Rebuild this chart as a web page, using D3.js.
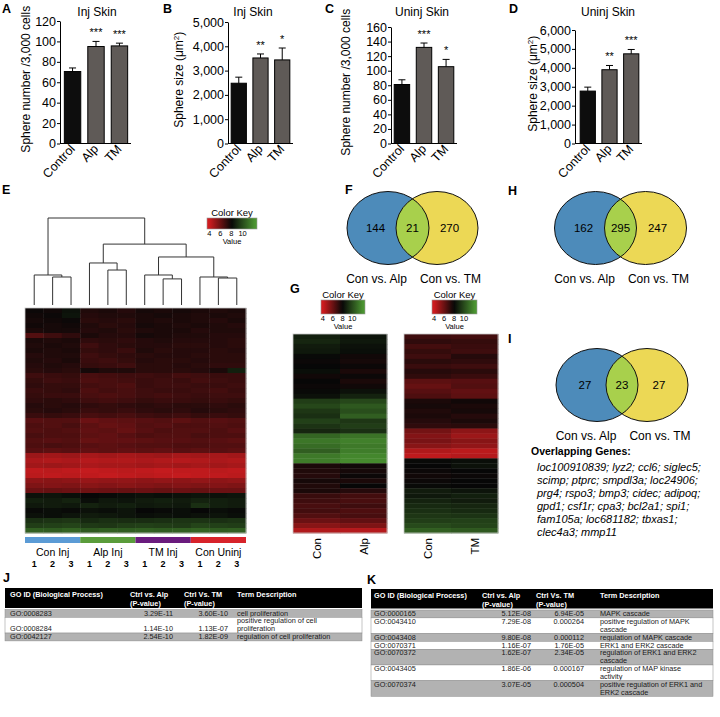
<!DOCTYPE html>
<html>
<head>
<meta charset="utf-8">
<script src="https://cdn.jsdelivr.net/npm/d3@7"></script>
<style>
body { margin: 0; background: #fff; }
svg text { font-family: Arial, "Liberation Sans", sans-serif; }
</style>
</head>
<body>
<svg id="fig" width="720" height="717"></svg>
<script>
// ---- bar panels A-D ----
const barCats = ["Control", "Alp", "TM"];
const injNumber = [70.5, 95, 95.6];
const injNumberErr = [3.5, 5, 2.7];
const injNumberSig = ["", "***", "***"];
const injSize = [2480, 3520, 3440];
const injSizeErr = [250, 165, 490];
const injSizeSig = ["", "**", "*"];
const uninjNumber = [81, 132, 105.5];
const uninjNumberErr = [6.5, 6, 10];
const uninjNumberSig = ["", "***", "*"];
const uninjSize = [2770, 3900, 4740];
const uninjSizeErr = [210, 225, 230];
const uninjSizeSig = ["", "**", "***"];
const ticksInjNumber = [0, 20, 40, 60, 80, 100, 120];
const ticksInjSize = [0, 1000, 2000, 3000, 4000, 5000];
const ticksUninjNumber = [0, 20, 40, 60, 80, 100, 120, 140, 160];
const ticksUninjSize = [0, 1000, 2000, 3000, 4000, 5000, 6000];

// ---- heatmap E (12 samples) ----
const groupsE = ["Con Inj", "Alp Inj", "TM Inj", "Con Uninj"];
const repsE = ["1", "2", "3"];
const rowsE = [
  [7.9,7.8,8.3, 7.5,7.6,7.4, 7.7,7.6,7.7, 7.6,7.5,7.6],
  [7.8,7.9,8.4, 7.4,7.5,7.5, 7.6,7.7,7.6, 7.5,7.6,7.5],
  [7.7,7.8,7.9, 7.3,7.4,7.3, 7.6,7.5,7.6, 7.5,7.4,7.6],
  [7.8,7.7,7.8, 7.5,7.3,7.4, 7.7,7.6,7.5, 7.6,7.5,7.4],
  [7.6,7.7,7.7, 7.4,7.5,7.3, 7.5,7.6,7.6, 7.4,7.5,7.5],
  [6.5,6.9,7.2, 7.6,7.4,7.4, 7.7,7.6,7.5, 7.5,7.4,7.4],
  [7.6,7.5,7.6, 7.2,7.3,7.2, 7.4,7.5,7.4, 7.4,7.4,7.3],
  [7.5,7.6,7.5, 6.9,7.2,7.3, 7.4,7.4,7.3, 7.3,7.4,7.3],
  [7.6,7.5,7.6, 7.1,7.2,7.0, 7.5,7.3,7.4, 7.4,7.3,7.4],
  [7.4,7.5,7.5, 6.9,7.1,7.2, 7.3,7.4,7.4, 7.3,7.3,7.3],
  [7.5,7.4,7.6, 7.0,6.9,7.1, 7.4,7.3,7.3, 7.4,7.3,7.3],
  [7.4,7.5,7.4, 7.1,7.0,6.9, 7.3,7.3,7.4, 7.3,7.2,7.2],
  [7.3,7.4,7.3, 7.7,7.5,7.5, 7.3,7.3,7.3, 7.4,7.6,8.7],
  [6.9,7.0,7.1, 6.7,6.8,6.9, 6.9,7.0,6.8, 6.9,7.0,7.0],
  [7.1,6.9,7.0, 6.6,6.7,6.8, 7.0,6.9,7.0, 6.8,6.9,7.0],
  [7.2,7.1,7.1, 6.8,6.7,6.6, 7.0,6.9,6.9, 7.0,7.0,6.9],
  [7.0,7.1,7.2, 6.6,6.8,6.7, 6.9,7.0,7.0, 6.9,6.8,7.0],
  [7.1,7.0,7.0, 6.7,6.6,6.7, 6.9,6.8,6.9, 7.0,6.9,6.9],
  [7.2,7.3,7.2, 6.9,6.8,6.9, 7.1,7.0,7.0, 7.1,7.0,7.1],
  [7.4,7.3,7.4, 7.2,7.1,7.2, 7.3,7.2,7.3, 7.3,7.2,7.3],
  [7.3,7.4,7.3, 7.0,7.1,7.0, 7.2,7.3,7.2, 7.4,7.3,7.2],
  [7.0,7.1,7.0, 6.7,6.8,6.7, 6.9,7.0,6.9, 7.1,7.0,7.1],
  [6.4,6.5,6.5, 6.0,6.2,6.3, 6.4,6.5,6.3, 6.5,6.4,6.5],
  [6.6,6.5,6.7, 6.3,6.1,6.2, 6.5,6.4,6.6, 6.6,6.5,6.6],
  [6.5,6.6,6.5, 6.2,6.3,6.1, 6.4,6.6,6.5, 6.5,6.6,6.4],
  [6.7,6.6,6.6, 6.3,6.2,6.4, 6.6,6.5,6.5, 6.7,6.6,6.6],
  [6.5,6.4,6.5, 6.1,6.2,6.2, 6.3,6.4,6.4, 6.5,6.4,6.3],
  [6.6,6.7,6.6, 6.4,6.3,6.4, 6.5,6.5,6.6, 6.6,6.5,6.5],
  [6.4,6.3,6.4, 6.2,6.3,6.2, 6.3,6.2,6.4, 6.3,6.4,6.3],
  [5.0,4.9,5.0, 4.8,4.9,4.8, 4.9,5.0,4.8, 4.9,4.8,4.9],
  [4.7,4.6,4.7, 4.5,4.6,4.6, 4.7,4.6,4.5, 4.6,4.7,4.6],
  [4.9,5.0,4.9, 4.7,4.8,4.8, 4.9,4.8,4.9, 4.8,4.9,4.8],
  [4.3,4.4,4.3, 4.2,4.3,4.4, 4.3,4.2,4.3, 4.3,4.4,4.3],
  [4.4,4.3,4.4, 4.3,4.2,4.3, 4.4,4.3,4.2, 4.3,4.3,4.4],
  [5.3,5.4,5.3, 5.1,5.2,5.2, 5.3,5.2,5.3, 5.2,5.3,5.2],
  [5.6,5.5,5.6, 5.4,5.5,5.4, 5.5,5.6,5.5, 5.6,5.5,5.6],
  [6.0,6.1,6.0, 5.9,6.0,6.1, 6.0,6.1,6.0, 6.1,6.0,6.0],
  [8.3,8.4,8.2, 8.0,8.1,8.2, 8.3,8.2,8.3, 8.4,8.3,8.4],
  [8.7,8.6,8.8, 8.2,8.5,8.4, 8.6,8.7,8.6, 8.8,8.7,8.6],
  [8.5,8.6,8.5, 8.8,8.6,8.7, 8.5,8.6,8.5, 9.2,8.7,8.6],
  [8.1,8.2,8.1, 8.3,8.2,8.4, 8.0,8.1,8.2, 8.0,8.2,8.1],
  [8.3,8.2,8.4, 8.6,8.5,8.4, 8.2,8.3,8.2, 8.3,8.4,8.2],
  [9.2,9.3,9.4, 9.0,9.2,9.1, 9.1,9.2,9.3, 9.3,9.2,9.3],
  [9.6,9.7,9.8, 9.5,9.4,9.6, 9.7,9.6,9.5, 9.8,9.7,9.6],
  [10.6,10.5,10.7, 10.4,10.6,10.5, 10.6,10.5,10.6, 10.7,10.5,10.6]
];
// dendrogram: h = relative merge height, leaf = column index
const dendroE = {h: 1.0, children: [
  {h: 0.345, children: [{leaf: 0}, {h: 0.322, children: [{leaf: 1}, {leaf: 2}]}]},
  {h: 0.70, children: [
    {h: 0.483, children: [{leaf: 3}, {h: 0.402, children: [{leaf: 4}, {leaf: 5}]}]},
    {h: 0.552, children: [
      {h: 0.345, children: [{leaf: 6}, {h: 0.30, children: [{leaf: 7}, {leaf: 8}]}]},
      {h: 0.322, children: [{leaf: 9}, {h: 0.31, children: [{leaf: 10}, {leaf: 11}]}]}
    ]}
  ]}
]};

// ---- heatmaps G ----
const colsGAlp = ["Con", "Alp"];
const rowsGAlp = [
  [8.7,8.4],[8.9,8.5],[8.6,8.3],[8.5,8.2],
  [8.1,7.8],[7.9,7.7],[8.0,7.9],[8.2,7.6],[7.8,7.9],[8.0,7.6],[7.9,7.8],[8.1,8.3],[8.3,8.8],
  [9.6,9.9],[9.9,10.4],[9.4,10.1],[9.2,10.6],[9.7,9.4],[9.3,9.6],[8.9,9.2],
  [10.8,11.2],[11.3,11.6],[11.0,11.4],[10.6,11.5],[11.4,11.8],[11.5,11.9],
  [7.6,7.8],[7.5,7.7],[7.4,7.9],[7.7,7.6],[7.5,8.0],[7.6,7.4],
  [7.0,6.8],[6.9,6.7],[6.7,6.9],[6.8,6.6],[6.5,6.7],
  [6.0,6.2],[5.4,5.6],[4.6,4.5]
];
const colsGTM = ["Con", "TM"];
const rowsGTM = [
  [6.9,6.8],[7.2,7.1],[6.8,7.0],[7.1,6.9],[6.9,7.4],[7.3,7.2],[7.0,6.9],[7.4,7.3],[7.2,7.0],
  [6.3,6.4],[6.1,6.5],[6.4,6.2],[6.6,6.3],
  [7.6,7.8],[7.7,7.6],[7.5,7.7],[7.6,7.4],[7.4,7.6],[7.2,7.3],
  [5.8,5.3],[5.5,5.0],[5.7,5.4],[5.4,5.2],
  [4.6,4.4],[4.3,4.5],
  [8.1,8.2],[8.0,8.3],[7.9,8.0],[7.8,7.9],[7.9,8.0],[8.1,8.0],
  [8.6,8.4],[8.5,8.7],[8.8,8.6],[9.0,8.9],[9.2,9.0],[9.4,9.3],[9.6,9.7],[10.0,9.8],[10.6,10.4]
];
const keyTicks = [4, 6, 8, 10];

// ---- Venn diagrams ----
const vennSets = ["Con vs. Alp", "Con vs. TM"];
const vennF = [144, 21, 270];
const vennH = [162, 295, 247];
const vennI = [27, 23, 27];
const overlapGenes = [
  "loc100910839; lyz2; ccl6; siglec5;",
  "scimp; ptprc; smpdl3a; loc24906;",
  "prg4; rspo3; bmp3; cidec; adipoq;",
  "gpd1; csf1r; cpa3; bcl2a1; spi1;",
  "fam105a; loc681182; tbxas1;",
  "clec4a3; mmp11"
];

// ---- GO tables ----
const goJ = ["GO:0008283", "GO:0008284", "GO:0042127"];
const alpJ = ["3.29E-11", "1.14E-10", "2.54E-10"];
const tmJ = ["3.60E-10", "1.13E-07", "1.82E-09"];
const termJ = [["cell proliferation"], ["positive regulation of cell", "proliferation"], ["regulation of cell proliferation"]];
const goK = ["GO:0000165", "GO:0043410", "GO:0043408", "GO:0070371", "GO:0070372", "GO:0043405", "GO:0070374"];
const alpK = ["5.12E-08", "7.29E-08", "9.80E-08", "1.16E-07", "1.62E-07", "1.86E-06", "3.07E-05"];
const tmK = ["6.94E-05", "0.000264", "0.000112", "1.76E-05", "2.34E-05", "0.000167", "0.000504"];
const termK = [["MAPK cascade"], ["positive regulation of MAPK", "cascade"], ["regulation of MAPK cascade"],
  ["ERK1 and ERK2 cascade"], ["regulation of ERK1 and ERK2", "cascade"], ["regulation of MAP kinase", "activity"],
  ["positive regulation of ERK1 and", "ERK2 cascade"]];

const svg = d3.select('#fig');
const heatColor = d3.scaleLinear().domain([3.8, 8, 12.4])
  .range(["#d81d20", "#070707", "#4e9b33"]).clamp(true);

function letter(t, x, y) {
  svg.append('text').attr('x', x).attr('y', y)
    .attr('font-size', 12.5).attr('font-weight', 'bold').text(t);
}

function barPanel(cfg, vals, errs, sig) {
  const g = svg.append('g');
  const y = d3.scaleLinear().domain([0, cfg.ymax]).range([143.5, cfg.ytop]);
  const x = d3.scaleBand().domain(barCats).range(cfg.band).paddingInner(0.3).paddingOuter(0.1);

  const ax = g.append('g').attr('transform', `translate(${cfg.x0},0)`)
    .call(d3.axisLeft(y).tickValues(cfg.ticks).tickSize(3).tickSizeOuter(0).tickPadding(1)
      .tickFormat(cfg.fmt));
  ax.attr('font-size', 12.5).attr('font-family', 'Arial, "Liberation Sans", sans-serif');
  ax.selectAll('path,line').attr('stroke', '#000');

  g.append('line').attr('x1', cfg.x0).attr('x2', cfg.band[1] + 1)
    .attr('y1', y(0)).attr('y2', y(0)).attr('stroke', '#000');

  g.selectAll('.bar').data(vals).join('rect')
    .attr('x', (d, i) => x(barCats[i])).attr('width', x.bandwidth())
    .attr('y', d => y(d)).attr('height', d => y(0) - y(d))
    .attr('fill', (d, i) => i === 0 ? '#0d0d0d' : '#5f5a57')
    .attr('stroke', '#000').attr('stroke-width', 1);

  const cx = i => x(barCats[i]) + x.bandwidth() / 2;
  vals.forEach((v, i) => {
    g.append('line').attr('x1', cx(i)).attr('x2', cx(i))
      .attr('y1', y(v)).attr('y2', y(v + errs[i])).attr('stroke', '#000');
    g.append('line').attr('x1', cx(i) - 3.5).attr('x2', cx(i) + 3.5)
      .attr('y1', y(v + errs[i])).attr('y2', y(v + errs[i])).attr('stroke', '#000');
    if (sig[i]) {
      g.append('text').attr('x', cx(i)).attr('y', y(v + errs[i]) - 5)
        .attr('text-anchor', 'middle').attr('font-size', 11).text(sig[i]);
    }
    g.append('text')
      .attr('transform', `translate(${cx(i) + 3},${y(0) + 6}) rotate(-47)`)
      .attr('text-anchor', 'end').attr('font-size', 12.5).text(barCats[i]);
  });

  g.append('text').attr('x', cfg.titleX).attr('y', 16)
    .attr('text-anchor', 'middle').attr('font-size', 12).text(cfg.title);

  const lab = g.append('text')
    .attr('transform', `translate(${cfg.labelX},${(y(0) + cfg.ytop) / 2 - 3}) rotate(-90)`)
    .attr('text-anchor', 'middle').attr('font-size', 12);
  if (cfg.unit) {
    lab.append('tspan').text('Sphere size (\u03bcm');
    lab.append('tspan').attr('dy', -4).attr('font-size', 8).text('2');
    lab.append('tspan').attr('dy', 4).text(')');
  } else {
    lab.text('Sphere number /3,000 cells');
  }
}

letter('A', 2, 12.5);
barPanel({x0: 60, band: [62, 130], ymax: 120, ytop: 21, ticks: ticksInjNumber, fmt: d3.format('d'),
  title: 'Inj Skin', titleX: 97, labelX: 30}, injNumber, injNumberErr, injNumberSig);
letter('B', 163, 12.5);
barPanel({x0: 228, band: [229, 292], ymax: 5000, ytop: 22, ticks: ticksInjSize, fmt: d3.format(','),
  title: 'Inj Skin', titleX: 253, labelX: 183, unit: true}, injSize, injSizeErr, injSizeSig);
letter('C', 325, 12.5);
barPanel({x0: 391, band: [392, 456], ymax: 160, ytop: 27, ticks: ticksUninjNumber, fmt: d3.format('d'),
  title: 'Uninj Skin', titleX: 422, labelX: 350}, uninjNumber, uninjNumberErr, uninjNumberSig);
letter('D', 509, 12.5);
barPanel({x0: 575, band: [578, 641], ymax: 6000, ytop: 30, ticks: ticksUninjSize, fmt: d3.format(','),
  title: 'Uninj Skin', titleX: 608, labelX: 537, unit: true}, uninjSize, uninjSizeErr, uninjSizeSig);

// ---- heatmap helper ----
function heatmap(rows, x0, x1, y0, y1) {
  const nc = rows[0].length;
  const xs = d3.scaleBand().domain(d3.range(nc)).range([x0, x1]);
  const ys = d3.scaleBand().domain(d3.range(rows.length)).range([y0, y1]);
  const g = svg.append('g');
  rows.forEach((r, i) => {
    g.selectAll(null).data(r).join('rect')
      .attr('x', (d, j) => xs(j)).attr('y', ys(i))
      .attr('width', xs.bandwidth() + 0.4).attr('height', ys.bandwidth() + 0.4)
      .attr('fill', d => heatColor(d));
  });
  g.append('rect').attr('x', x0).attr('y', y0).attr('width', x1 - x0).attr('height', y1 - y0)
    .attr('fill', 'none').attr('stroke', '#c8c8c8').attr('stroke-width', 0.8);
  return xs;
}

let keyId = 0;
function colorKey(x0, x1, y0, h) {
  const id = 'kg' + (keyId++);
  const ks = d3.scaleLinear().domain([3.6, 12.6]).range([x0, x1]);
  const grad = svg.append('defs').append('linearGradient').attr('id', id);
  d3.range(3.6, 12.61, 0.5).forEach(v => {
    grad.append('stop').attr('offset', (v - 3.6) / 9).attr('stop-color', heatColor(v));
  });
  svg.append('text').attr('x', (x0 + x1) / 2).attr('y', y0 - 2.5)
    .attr('text-anchor', 'middle').attr('font-size', 9.5).text('Color Key');
  svg.append('rect').attr('x', x0).attr('y', y0).attr('width', x1 - x0).attr('height', h)
    .attr('fill', `url(#${id})`).attr('stroke', '#999').attr('stroke-width', 0.6);
  keyTicks.forEach(t => {
    svg.append('text').attr('x', ks(t)).attr('y', y0 + h + 6.5)
      .attr('text-anchor', 'middle').attr('font-size', 7.5).text(t);
  });
  svg.append('text').attr('x', (x0 + x1) / 2).attr('y', y0 + h + 14.5)
    .attr('text-anchor', 'middle').attr('font-size', 7.5).text('Value');
}

// ---- E ----
letter('E', 2, 194);
const xsE = heatmap(rowsE, 25, 246, 308, 533);
const dy = d3.scaleLinear().domain([0, 1]).range([305, 218]);
const root = d3.hierarchy(dendroE);
root.eachAfter(n => {
  if (n.data.leaf !== undefined) {
    n.px = xsE(n.data.leaf) + xsE.bandwidth() / 2;
    n.py = dy(0);
  } else {
    n.px = d3.mean(n.children, c => c.px);
    n.py = dy(n.data.h);
  }
});
const dg = svg.append('g').attr('stroke', '#333').attr('stroke-width', 1).attr('fill', 'none');
root.each(n => {
  if (!n.children) return;
  const xsC = n.children.map(c => c.px);
  dg.append('line').attr('x1', d3.min(xsC)).attr('x2', d3.max(xsC)).attr('y1', n.py).attr('y2', n.py);
  n.children.forEach(c => {
    dg.append('line').attr('x1', c.px).attr('x2', c.px).attr('y1', n.py).attr('y2', c.py);
  });
});
colorKey(207, 257, 218, 11);
const groupColors = ["#5b9bd5", "#5a9c3b", "#6a1b7d", "#d7232a"];
groupsE.forEach((gname, gi) => {
  const gx0 = xsE(gi * 3), gx1 = xsE(gi * 3 + 2) + xsE.bandwidth();
  svg.append('rect').attr('x', gx0).attr('y', 537).attr('width', gx1 - gx0).attr('height', 6)
    .attr('fill', groupColors[gi]);
  svg.append('text').attr('x', (gx0 + gx1) / 2).attr('y', 556)
    .attr('text-anchor', 'middle').attr('font-size', 10.5).text(gname);
  repsE.forEach((r, ri) => {
    svg.append('text').attr('x', xsE(gi * 3 + ri) + xsE.bandwidth() / 2).attr('y', 567)
      .attr('text-anchor', 'middle').attr('font-size', 9).attr('font-weight', 'bold').text(r);
  });
});

// ---- G ----
letter('G', 290, 293);
function gHeat(rows, cols, x0, x1) {
  const xs = heatmap(rows, x0, x1, 334, 533);
  cols.forEach((c, j) => {
    svg.append('text')
      .attr('transform', `translate(${xs(j) + xs.bandwidth() / 2 + 4},538) rotate(-90)`)
      .attr('text-anchor', 'end').attr('font-size', 11.5).text(c);
  });
}
gHeat(rowsGAlp, colsGAlp, 293, 387);
gHeat(rowsGTM, colsGTM, 404, 498);
colorKey(321, 365, 300, 14);
colorKey(432, 477, 300, 14);

// ---- Venn ----
let vennId = 0;
function venn(cx1, cx2, cy, counts) {
  const rx = 41, ry = 36.5;
  const id = 'vc' + (vennId++);
  svg.append('defs').append('clipPath').attr('id', id)
    .append('ellipse').attr('cx', cx1).attr('cy', cy).attr('rx', rx).attr('ry', ry);
  svg.append('ellipse').attr('cx', cx1).attr('cy', cy).attr('rx', rx).attr('ry', ry).attr('fill', '#4d8bba');
  svg.append('ellipse').attr('cx', cx2).attr('cy', cy).attr('rx', rx).attr('ry', ry).attr('fill', '#ecd855');
  svg.append('ellipse').attr('cx', cx2).attr('cy', cy).attr('rx', rx).attr('ry', ry)
    .attr('fill', '#a8d04c').attr('clip-path', `url(#${id})`);
  [cx1, cx2].forEach(cx => svg.append('ellipse').attr('cx', cx).attr('cy', cy)
    .attr('rx', rx).attr('ry', ry).attr('fill', 'none').attr('stroke', '#111').attr('stroke-width', 1));
  const mid = (cx1 + cx2) / 2;
  [mid - 37, mid, mid + 37].forEach((x, i) => {
    svg.append('text').attr('x', x).attr('y', cy + 4).attr('text-anchor', 'middle')
      .attr('font-size', 11.5).text(counts[i]);
  });
  [mid - 36, mid + 38].forEach((x, i) => {
    svg.append('text').attr('x', x).attr('y', cy + ry + 18).attr('text-anchor', 'middle')
      .attr('font-size', 12).text(vennSets[i]);
  });
}
letter('F', 345, 194);
venn(388, 437, 228, vennF);
letter('H', 508, 195);
venn(595.5, 645.5, 228, vennH);
letter('I', 508, 343);
venn(597, 647, 385, vennI);
svg.append('text').attr('x', 531).attr('y', 455).attr('font-size', 10.5)
  .attr('font-weight', 'bold').text('Overlapping Genes:');
overlapGenes.forEach((l, i) => {
  svg.append('text').attr('x', 537).attr('y', 471 + i * 13).attr('font-size', 11)
    .attr('font-style', 'italic').text(l);
});

// ---- tables ----
function goTable(cfg, go, alp, tm, term) {
  const g = svg.append('g').attr('font-size', 7.3).attr('fill', '#1a1a1a');
  const lineH = 7.85;
  g.append('rect').attr('x', cfg.left).attr('y', cfg.top).attr('width', cfg.right - cfg.left)
    .attr('height', cfg.headBottom - cfg.top).attr('fill', '#000');
  const hd = g.append('g').attr('fill', '#fff').attr('font-weight', 'bold');
  hd.append('text').attr('x', cfg.goX).attr('y', cfg.top + 9).text('GO ID (Biological Process)');
  hd.append('text').attr('x', cfg.alpH).attr('y', cfg.top + 9).text('Ctrl vs. Alp');
  hd.append('text').attr('x', cfg.alpH).attr('y', cfg.top + 17.5).text('(P-value)');
  hd.append('text').attr('x', cfg.tmH).attr('y', cfg.top + 9).text('Ctrl Vs. TM');
  hd.append('text').attr('x', cfg.tmH).attr('y', cfg.top + 17.5).text('(P-value)');
  hd.append('text').attr('x', cfg.termX).attr('y', cfg.top + 9).text('Term Description');
  let y = cfg.headBottom + 1.5;
  go.forEach((id, i) => {
    const lines = term[i];
    const h = lines.length * lineH;
    g.append('rect').attr('x', cfg.left).attr('y', y).attr('width', cfg.right - cfg.left).attr('height', h)
      .attr('fill', i % 2 === 0 ? '#b2b2b2' : '#fff').attr('stroke', '#8a8a8a').attr('stroke-width', 0.5);
    const vy = cfg.bottomAlign ? y + h - 1.8 : y + 6.1;
    g.append('text').attr('x', cfg.goX).attr('y', vy).text(id);
    g.append('text').attr('x', cfg.alpR).attr('y', vy).attr('text-anchor', 'end').text(alp[i]);
    g.append('text').attr('x', cfg.tmR).attr('y', vy).attr('text-anchor', 'end').text(tm[i]);
    lines.forEach((l, k) => {
      g.append('text').attr('x', cfg.termX).attr('y', y + 6.1 + k * lineH).text(l);
    });
    y += h;
  });
}
letter('J', 3, 582);
goTable({left: 5, right: 362, top: 588, headBottom: 608, goX: 10, alpH: 130, alpR: 173,
  tmH: 184, tmR: 228, termX: 237, bottomAlign: true}, goJ, alpJ, tmJ, termJ);
letter('K', 367, 584);
goTable({left: 371, right: 713, top: 589, headBottom: 608.5, goX: 374, alpH: 482, alpR: 531,
  tmH: 536, tmR: 584, termX: 600, bottomAlign: false}, goK, alpK, tmK, termK);
</script>
</body>
</html>
